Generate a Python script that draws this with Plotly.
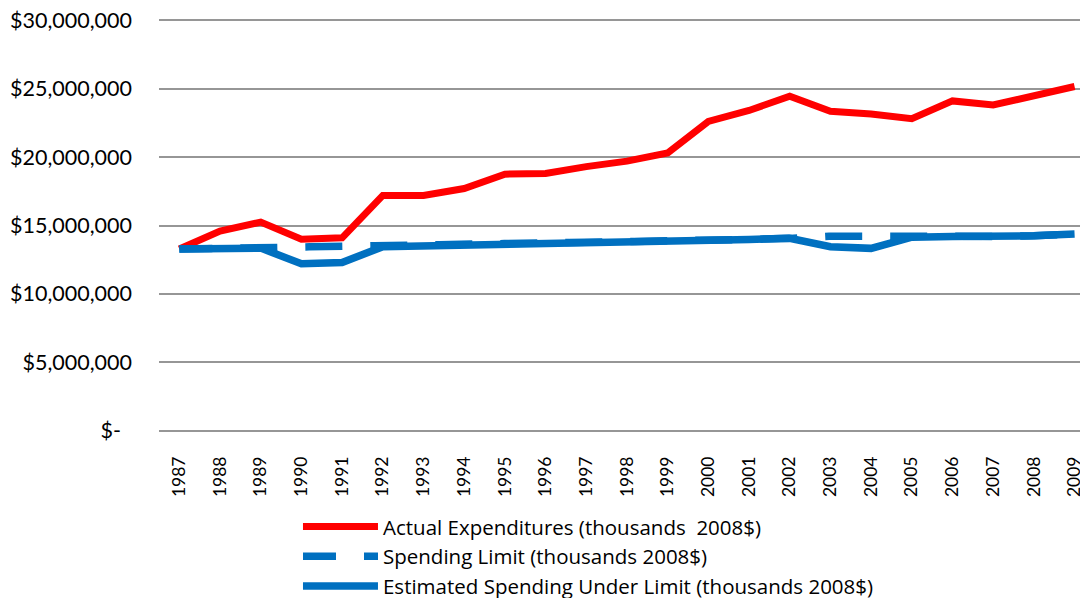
import plotly.graph_objects as go

years = [str(y) for y in range(1987, 2010)]

# values in dollars
actual = [13280000, 14600000, 15250000, 14000000, 14100000, 17200000, 17200000,
          17700000, 18750000, 18800000, 19300000, 19700000, 20300000, 22600000,
          23400000, 24450000, 23350000, 23150000, 22800000, 24100000, 23800000,
          24500000, 25150000]
limit = [13280000, 13330000, 13330000, 13450000, 13450000, 13450000, 13500000,
         13530000, 13570000, 13620000, 13680000, 13740000, 13820000, 13900000,
         13980000, 14060000, 14220000, 14220000, 14180000, 14200000, 14200000,
         14250000, 14380000]
estimated = [13280000, 13330000, 13350000, 12200000, 12300000, 13450000, 13500000,
             13530000, 13570000, 13620000, 13680000, 13740000, 13820000, 13900000,
             13980000, 14060000, 13450000, 13330000, 14150000, 14200000, 14200000,
             14250000, 14380000]

y_ticks = [0, 5000000, 10000000, 15000000, 20000000, 25000000, 30000000]
y_tick_labels = ["$-\u00a0\u00a0", "$5,000,000", "$10,000,000", "$15,000,000",
                 "$20,000,000", "$25,000,000", "$30,000,000"]

names = ["Actual Expenditures (thousands\u00a0 2008$)",
         "Spending Limit (thousands 2008$)",
         "Estimated Spending Under Limit (thousands 2008$)"]

RED = "#FF0000"
BLUE = "#0070C0"
FONT = "Lato"

fig = go.Figure()

fig.add_trace(go.Scatter(
    x=years, y=actual, name=names[0], mode="lines",
    line=dict(color=RED, width=7)
))
fig.add_trace(go.Scatter(
    x=years, y=limit, name=names[1], mode="lines",
    line=dict(color=BLUE, width=7.5, dash="33px,28px,4px,0px")
))
fig.add_trace(go.Scatter(
    x=years, y=estimated, name=names[2], mode="lines",
    line=dict(color=BLUE, width=7.5)
))

# the page body has an 8px margin, so the figure is sized to fit inside it
fig.update_layout(
    width=1080, height=590,
    margin=dict(l=151, r=0, t=8, b=163, autoexpand=False),
    paper_bgcolor="white",
    plot_bgcolor="white",
    font=dict(family=FONT, color="black"),
    showlegend=True,
    legend=dict(
        orientation="v",
        xref="container", yref="container",
        x=0.2685, xanchor="left",
        y=0.1546, yanchor="top",
        font=dict(size=20.5, family="Open Sans", color="black"),
        itemwidth=75,
        bgcolor="rgba(0,0,0,0)",
    ),
)

fig.update_xaxes(
    type="category",
    range=[-0.5, 22.33],
    tickangle=-90,
    tickfont=dict(size=17.5, family=FONT, color="black"),
    showgrid=False,
    showline=False,
    ticks="",
    ticklabelstandoff=17,
    automargin=False,
)

fig.update_yaxes(
    range=[-300000, 30300000],
    tickvals=y_ticks,
    ticktext=y_tick_labels,
    tickfont=dict(size=21.5, family=FONT, color="black"),
    showgrid=True,
    gridcolor="#969696",
    gridwidth=1.6,
    zeroline=False,
    showline=False,
    ticks="",
    ticklabelstandoff=26,
    ticklabeloverflow="allow",
    automargin=False,
)

fig.write_html("out.html")
